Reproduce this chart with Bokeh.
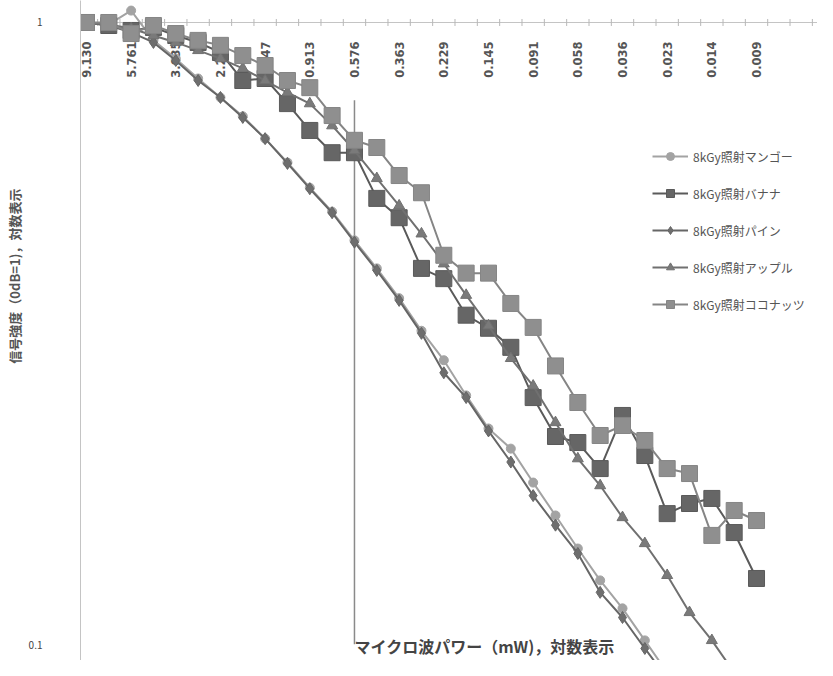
import math
from bokeh.plotting import figure
from bokeh.models import Range1d, FixedTicker, Legend, LegendItem, Title
from bokeh.core.properties import value
from bokeh.embed import file_html
from bokeh.resources import INLINE

# ---- data ----
power_labels = ["9.130", "5.761", "3.635", "2.293", "1.447", "0.913", "0.576", "0.363",
                "0.229", "0.145", "0.091", "0.058", "0.036", "0.023", "0.014", "0.009"]
label_idx = [0, 2, 4, 6, 8, 10, 12, 14, 16, 18, 20, 22, 24, 26, 28, 30]

mango = [1.000, 0.993, 1.045, 0.936, 0.875, 0.813, 0.758, 0.707, 0.651, 0.596, 0.543, 0.497,
         0.447, 0.403, 0.361, 0.320, 0.287, 0.252, 0.223, 0.207, 0.1826, 0.1617, 0.1431,
         0.1272, 0.1147, 0.1019, 0.0905, 0.0801]
banana = [1.000, 0.989, 0.971, 0.982, 0.953, 0.929, 0.895, 0.807, 0.813, 0.741, 0.671, 0.618,
          0.618, 0.522, 0.486, 0.403, 0.388, 0.339, 0.323, 0.301, 0.250, 0.2165, 0.2117,
          0.1923, 0.234, 0.2018, 0.1628, 0.169, 0.1722, 0.1518, 0.1281]
pine = [1.000, 0.989, 0.964, 0.929, 0.869, 0.807, 0.758, 0.704, 0.651, 0.594, 0.541, 0.495,
        0.444, 0.400, 0.358, 0.317, 0.274, 0.250, 0.221, 0.197, 0.174, 0.156, 0.1405,
        0.1217, 0.1109, 0.0989, 0.0886, 0.0787]
apple = [1.000, 0.993, 0.978, 0.953, 0.929, 0.902, 0.875, 0.844, 0.807, 0.772, 0.741, 0.683,
         0.623, 0.562, 0.508, 0.458, 0.410, 0.365, 0.326, 0.289, 0.261, 0.228, 0.1995,
         0.1806, 0.1605, 0.1458, 0.1296, 0.1130, 0.1019, 0.0905]
coconut = [1.000, 1.000, 0.960, 0.989, 0.960, 0.936, 0.919, 0.885, 0.853, 0.807, 0.786, 0.709,
           0.647, 0.630, 0.568, 0.533, 0.423, 0.396, 0.396, 0.354, 0.324, 0.281, 0.2455,
           0.2173, 0.2255, 0.2133, 0.1923, 0.1888, 0.1502, 0.1647, 0.1587]

series_names = ["8kGy照射マンゴー", "8kGy照射バナナ", "8kGy照射パイン", "8kGy照射アップル", "8kGy照射ココナッツ"]
y_title = "信号強度（0dB=1)，対数表示"
x_title = "マイクロ波パワー（mW)，対数表示"

JP = "Noto Sans CJK JP"

Y_TOP = 1.0847
Y_BOTTOM = 0.0946
X_LEFT = -0.266
X_RIGHT = 32.73

p = figure(width=817, height=660, y_axis_type="log", x_axis_location=None,
           x_range=Range1d(X_LEFT, X_RIGHT), y_range=Range1d(Y_BOTTOM, Y_TOP),
           output_backend="svg", toolbar_location=None,
           min_border_left=80, min_border_right=0, min_border_top=0, min_border_bottom=0)
p.outline_line_color = None
p.xgrid.visible = False
p.ygrid.visible = False
p.background_fill_color = "white"

# y axis
ya = p.yaxis[0]
ya.ticker = FixedTicker(ticks=[0.1, 1.0])
ya.major_label_overrides = {0.1: "0.1", 1.0: "1"}
ya.major_tick_line_color = None
ya.minor_tick_line_color = None
ya.axis_line_color = "#c4c4c4"
ya.major_label_standoff = 32
ya.major_label_text_font = JP
ya.major_label_text_font_size = "10px"
ya.major_label_text_color = "#444444"

# y title on the left, placed in the upper half like the reference
p.add_layout(Title(text=y_title, align="right", offset=188, standoff=4,
                   text_font=JP, text_font_size="13px", text_font_style="bold",
                   text_color="#555555"), "left")

# top category axis drawn at y = 1
p.line(x=[X_LEFT, X_RIGHT], y=[1.0, 1.0], line_color="#c4c4c4", line_width=1)
tick_x = [i - 0.5 for i in range(34)]
p.scatter(x=tick_x, y=[1.0] * len(tick_x), marker="dash", angle=math.pi / 2, size=7,
          line_color="#b8b8b8", line_width=1)
p.text(x=label_idx, y=[1.0] * len(label_idx), text=power_labels, angle=math.pi / 2,
       text_align="right", text_baseline="middle", y_offset=19,
       text_font=value("DejaVu Sans"), text_font_size="11.5px", text_font_style="bold",
       text_color="#555555")

# leader line & x title
lead_x = 12
p.line(x=[lead_x, lead_x], y=[0.75, 0.1005], line_color="#8a8a8a", line_width=1.5)
p.text(x=[lead_x], y=[0.0974], text=[x_title], text_align="left", text_baseline="middle",
       y_offset=-7, text_font=value(JP), text_font_size="16px", text_font_style="bold",
       text_color="#444444")

def xs(v):
    return list(range(len(v)))

styles = [
    (mango, "circle", 9, "#a3a3a3", "#a3a3a3", 2),
    (banana, "square", 16, "#666666", "#5a5a5a", 2),
    (pine, "diamond", 12, "#6e6e6e", "#666666", 2),
    (apple, "triangle", 11, "#7a7a7a", "#707070", 2),
    (coconut, "square", 16, "#8f8f8f", "#858585", 2),
]

items = []
for (vals, marker, size, fill, line_c, lw), name in zip(styles, series_names):
    r1 = p.line(xs(vals), vals, line_color=line_c, line_width=lw)
    r2 = p.scatter(xs(vals), vals, marker=marker, size=size, fill_color=fill,
                   line_color=line_c, line_width=1)
    items.append(LegendItem(label=name, renderers=[r1, r2]))

legend = Legend(items=items, location=(572, 346), glyph_width=36, glyph_height=20,
                label_height=20, spacing=17, padding=0, margin=0, label_standoff=5,
                background_fill_alpha=0, border_line_alpha=0,
                label_text_font=JP, label_text_font_size="12px", label_text_color="#555555")
p.add_layout(legend)

open("out.html", "w").write(file_html(p, INLINE))
